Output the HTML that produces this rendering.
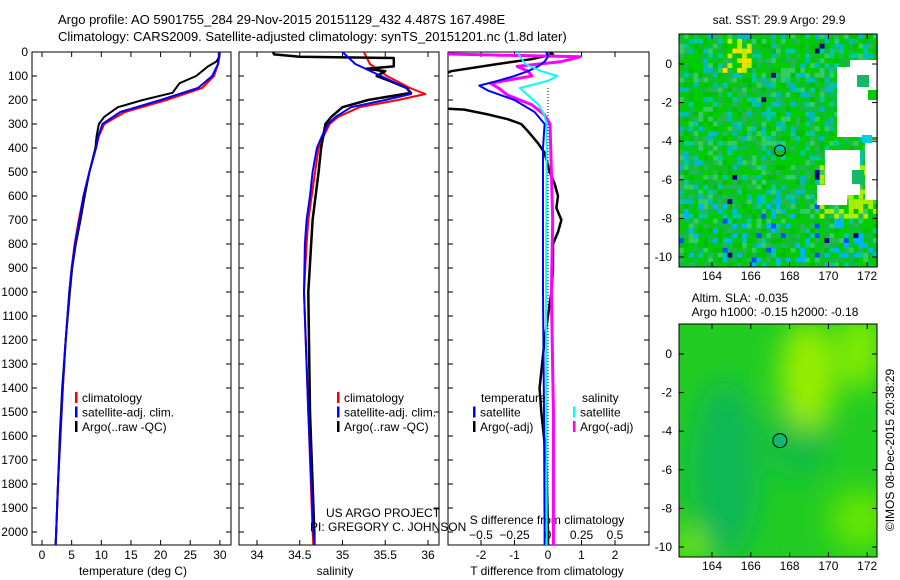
<!DOCTYPE html>
<html><head><meta charset="utf-8"><style>
html,body{margin:0;padding:0;background:#fff;width:900px;height:580px;overflow:hidden}
svg{display:block;font-family:"Liberation Sans",sans-serif}
text{font-size:12px;fill:#000}
</style></head><body>
<svg id="chart" width="900" height="580" viewBox="0 0 900 580" xmlns="http://www.w3.org/2000/svg">
<defs>
<clipPath id="c1"><rect x="32" y="52" width="199" height="493"/></clipPath>
<clipPath id="c2"><rect x="239" y="52" width="200" height="493"/></clipPath>
<clipPath id="c3"><rect x="448" y="52" width="201" height="493"/></clipPath>
<clipPath id="cm2"><rect x="679" y="324" width="198" height="233"/></clipPath>
<filter id="bl" x="-50%" y="-50%" width="200%" height="200%"><feGaussianBlur stdDeviation="14"/></filter>
</defs>
<text x="58" y="24" style="font-size:13px">Argo profile: AO 5901755_284 29-Nov-2015 20151129_432 4.487S 167.498E</text>
<text x="58" y="41" style="font-size:13px">Climatology: CARS2009. Satellite-adjusted climatology: synTS_20151201.nc (1.8d later)</text>
<g id="g"></g>
</svg>
<script>
// depth grids and profile values
const depthT=[0,20,50,100,150,200,250,300,350,400,500,600,700,800,900,1000,1200,1400,1600,1800,2000,2054];
const tempClim=[29.8,29.8,29.7,29.0,27.0,21.0,14.0,10.5,9.6,9.1,8.0,7.0,6.2,5.5,5.0,4.6,4.0,3.5,3.1,2.7,2.4,2.3];
const tempSat=[29.9,29.9,29.7,28.7,26.3,20.0,13.2,10.2,9.5,9.1,8.0,7.0,6.3,5.6,5.0,4.6,4.0,3.5,3.1,2.7,2.4,2.3];
const depthA=[0,20,40,60,80,100,130,170,200,230,270,300,350,400,500,600,700,800,900,1000,1200,1400,1600,1800,2000,2054];
const tempArgo=[30.0,29.9,29.4,28.0,27.0,26.0,23.2,22.0,17.0,12.8,10.5,9.6,9.2,9.0,8.0,7.2,6.5,5.7,5.1,4.7,4.0,3.4,3.0,2.7,2.4,2.3];
const depthS=[0,50,100,150,175,200,230,270,300,350,400,500,600,700,800,1000,1500,2000,2054];
const salClim=[35.25,35.32,35.52,35.79,35.97,35.65,35.2,34.95,34.85,34.78,34.72,34.68,34.64,34.6,34.58,34.55,34.6,34.65,34.66];
const salSat=[35.0,35.15,35.45,35.75,35.8,35.5,35.1,34.92,34.83,34.76,34.7,34.65,34.62,34.58,34.56,34.55,34.6,34.66,34.67];
const depthSA=[0,10,20,25,40,60,70,80,100,120,150,170,200,230,270,300,400,500,700,1000,1500,2000,2054];
const salArgo=[34.19,34.2,34.5,35.6,35.6,35.6,35.28,35.5,35.4,35.55,35.75,35.8,35.3,35.0,34.87,34.8,34.75,34.72,34.65,34.6,34.62,34.67,34.67];
const depthDT=[0,20,40,60,80,100,120,140,160,200,250,300,400,1000,1500,2000,2054];
const dTsat=[-0.05,0.0,-0.1,-0.3,-0.6,-1.0,-1.5,-2.05,-1.8,-1.0,-0.4,-0.1,-0.15,-0.15,-0.12,-0.1,-0.1];
const depthDTA=[0,10,30,50,80,120,233,240,260,280,300,330,380,420,500,550,600,650,700,750,800,900,1000,1200,1400,1500,1700,2000,2054];
const dTargo=[0.05,0.15,-0.5,-1.5,-2.9,-3.5,-3.5,-2.5,-1.8,-1.2,-0.8,-0.6,-0.3,-0.1,0.05,0.2,0.3,0.25,0.4,0.3,0.15,0.15,0.1,-0.1,-0.25,-0.2,-0.05,0.0,0.0];
const depthDS=[0,50,80,100,120,150,180,220,260,300,1000,2000,2054];
const dSsat=[-0.23,-0.17,-0.05,0.07,0.0,-0.21,-0.15,-0.07,-0.03,-0.01,-0.015,-0.01,-0.01];
const depthDSA=[0,8,20,40,60,80,100,130,150,180,220,260,300,500,700,1000,1500,2000,2054];
const dSargo=[-0.8,-0.8,0.24,0.1,-0.23,-0.15,-0.12,-0.43,-0.37,-0.3,-0.12,-0.03,0.015,0.025,0.035,0.025,0.04,0.04,0.04];
const depthTicks=[0,100,200,300,400,500,600,700,800,900,1000,1100,1200,1300,1400,1500,1600,1700,1800,1900,2000];
const tTicks=[0,5,10,15,20,25,30];
const sTicks=[34,34.5,35,35.5,36];
const dTTicks=[-2,-1,0,1,2];
const dSTicks=[-0.5,-0.25,0,0.25,0.5];
const lonTicks=[164,166,168,170,172];
const latTicks=[0,-2,-4,-6,-8,-10];

const yD=d=>52+d*0.24;
const xT=t=>42+t*5.93;
const xS=s=>257+(s-34)*85.5;
const xD=t=>548+t*33.5;
const xDS=s=>xD(s*4);
const mLon=l=>712+(l-164)*19.4;
const mLat1=l=>64-l*19.3;
const mLat2=l=>354-l*19.3;

const NS='http://www.w3.org/2000/svg';
const root=document.getElementById('g');
function el(tag,attrs,parent){const e=document.createElementNS(NS,tag);for(const k in attrs)e.setAttribute(k,attrs[k]);(parent||root).appendChild(e);return e;}
function txt(s,x,y,anchor,parent){const t=el('text',{x:x,y:y,'text-anchor':anchor||'start'},parent);t.textContent=s;return t;}

// maps
const m1=el('g',{});


el('rect',{x:679,y:34,width:198,height:233,fill:'#0c0'},m1);
const pal=['#00cc00','#00cc00','#11bb33','#22b855','#00c000','#33cc66','#00cc00','#11bb44','#00c8a0','#00b8c8'];
function h(i,j){let n=(i*374761393+j*668265263)>>>0;n=((n^(n>>>13))*1274126177)>>>0;return (n>>>8)/16777216;}
for(let i=0;i<41;i++)for(let j=0;j<48;j++){
  const r=h(i,j);const lat=1.5-j*0.25;
  let c=pal[Math.floor(r*10)];
  if(lat<-7&&r>0.85)c=r>0.97?'#0050ff':'#00b4ff';
  if(r>0.995)c='#000088';
  if(lat>-0.5&&lat<1.5&&i>8&&i<15&&r>0.5)c=r>0.85?'#ffdd00':'#bbee00';
  if(lat<-5&&lat>-8&&(i>28)&&r>0.6)c='#aaee00';
  el('rect',{x:679+i*4.85,y:34+j*4.86,width:4.9,height:4.9,fill:c},m1);
}
[[837,67,40,70],[850,60,27,20],[825,150,35,45],[817,185,30,20],[865,140,12,60]].forEach(r=>el('rect',{x:r[0],y:r[1],width:r[2],height:r[3],fill:'#fff'},m1));
[[857,75,12,12,'#11bb66'],[868,90,9,10,'#00cc00'],[862,135,10,8,'#00d0d0'],[852,170,12,14,'#11bb66']].forEach(r=>el('rect',{x:r[0],y:r[1],width:r[2],height:r[3],fill:r[4]},m1));
el('rect',{x:679,y:34,width:198,height:233,fill:'none',stroke:'#000'},m1);
el('circle',{cx:mLon(167.5),cy:mLat1(-4.487),r:5.5,fill:'none',stroke:'#000'},m1);
const mt=txt('sat. SST: 29.9 Argo: 29.9',779,24,'middle');



const m2=el('g',{});


el('rect',{x:679,y:324,width:198,height:233,fill:'#22cc22'},m2);
const bg=el('g',{'clip-path':'url(#cm2)',filter:'url(#bl)'},m2);
el('ellipse',{cx:725,cy:470,rx:35,ry:90,fill:'#11b855'},bg);
el('ellipse',{cx:800,cy:440,rx:30,ry:40,fill:'#11bb44'},bg);
el('ellipse',{cx:808,cy:375,rx:28,ry:55,fill:'#99ee00'},bg);
el('ellipse',{cx:860,cy:350,rx:20,ry:40,fill:'#88ee00'},bg);
el('ellipse',{cx:860,cy:520,rx:30,ry:30,fill:'#66e600'},bg);
el('ellipse',{cx:690,cy:545,rx:15,ry:15,fill:'#88ee00'},bg);
el('rect',{x:679,y:324,width:198,height:233,fill:'none',stroke:'#000'},m2);
el('circle',{cx:mLon(167.5),cy:mLat2(-4.487),r:7,fill:'#11b870',stroke:'#000'},m2);
const mt2=txt('Altim. SLA: -0.035',740,302,'middle');


const mt3=txt('Argo h1000: -0.15 h2000: -0.18',775,316,'middle');


[[mLat1,34,267,280],[mLat2,324,557,570]].forEach(([f,top,bot,ly])=>{
  latTicks.forEach(l=>{const y=f(l);el('line',{x1:679,x2:684,y1:y,y2:y,stroke:'#000'});el('line',{x1:872,x2:877,y1:y,y2:y,stroke:'#000'});
    const t=txt(String(l),672,y+4,'end');});
  lonTicks.forEach(l=>{const x=mLon(l);el('line',{x1:x,x2:x,y1:top,y2:top+5,stroke:'#000'});el('line',{x1:x,x2:x,y1:bot-5,y2:bot,stroke:'#000'});
    const t=txt(String(l),x,ly,'middle');});
});
const cr=txt('©IMOS 08-Dec-2015 20:38:29',0,0,'middle');
cr.setAttribute('transform','translate(894,450) rotate(-90)');



// profile panels
const panels=[[32,231,'c1'],[239,439,'c2'],[448,649,'c3']];
panels.forEach((p,i)=>{
  const r=el('rect',{x:p[0],y:52,width:p[1]-p[0],height:493,fill:'none',stroke:'#000'});
  
  
  depthTicks.forEach(d=>{const y=yD(d);el('line',{x1:p[0],x2:p[0]+5,y1:y,y2:y,stroke:'#000'});el('line',{x1:p[1]-5,x2:p[1],y1:y,y2:y,stroke:'#000'});});
});
depthTicks.forEach(d=>{const t=txt(String(d),28,yD(d)+4,'end');});
function xticks(arr,f){arr.forEach(v=>{const x=f(v);el('line',{x1:x,x2:x,y1:52,y2:57,stroke:'#000'});el('line',{x1:x,x2:x,y1:540,y2:545,stroke:'#000'});
  const t=txt(String(v),x,559,'middle');});}
xticks(tTicks,xT);xticks(sTicks,xS);xticks(dTTicks,xD);
dSTicks.forEach(v=>{const t=txt(String(v).replace('-','\u2212'),xDS(v),539,'middle');});
[['temperature (deg C)',133,575],['salinity',335,575],['T difference from climatology',547,575],['S difference from climatology',547,524]].forEach(a=>{const t=txt(a[0],a[1],a[2],'middle');});
const zl=el('line',{x1:xD(0),x2:xD(0),y1:yD(150),y2:yD(2050),stroke:'#000','stroke-width':1,'stroke-dasharray':'1,2'});



function line(ds,vs,fx,color,w,clip,name){
  const pts=ds.map((d,i)=>fx(vs[i]).toFixed(1)+','+yD(d).toFixed(1)).join(' ');
  const pl=el('polyline',{points:pts,fill:'none',stroke:color,'stroke-width':w,'clip-path':'url(#'+clip+')','stroke-linejoin':'round'});
  
  
}
line(depthT,tempClim,xT,'#f00',2,'c1','temp-climatology-line');
line(depthA,tempArgo,xT,'#000',2,'c1','temp-argo-line');
line(depthT,tempSat,xT,'#00f',2,'c1','temp-satellite-line');
line(depthS,salClim,xS,'#f00',2,'c2','sal-climatology-line');
line(depthSA,salArgo,xS,'#000',2.5,'c2','sal-argo-line');
line(depthS,salSat,xS,'#00f',2,'c2','sal-satellite-line');
line(depthDTA,dTargo,xD,'#000',2.5,'c3','t-diff-argo-line');
line(depthDSA,dSargo,xDS,'#f0f',3,'c3','s-diff-argo-line');
line(depthDT,dTsat,xD,'#00f',2,'c3','t-diff-satellite-line');
line(depthDS,dSsat,xDS,'#0ff',2,'c3','s-diff-satellite-line');

function legend(x,y,items){items.forEach((it,i)=>{const yy=y+i*14.5;
  const b=el('rect',{x:x,y:yy-10,width:2.5,height:11,fill:it[1]});
  const t=txt(it[0],x+7,yy);});}
legend(75,402,[['climatology','#f00'],['satellite-adj. clim.','#00f'],['Argo(..raw -QC)','#000']]);
legend(337,402,[['climatology','#f00'],['satellite-adj. clim.','#00f'],['Argo(..raw -QC)','#000']]);
const lt=txt('temperature',481,402);
const ls=txt('salinity',582,402);
legend(473,416.5,[['satellite','#00f'],['Argo(-adj)','#000']]);
legend(573,416.5,[['satellite','#0ff'],['Argo(-adj)','#f0f']]);
const u1=txt('US ARGO PROJECT',326,517);
const u2=txt('PI: GREGORY C. JOHNSON',310,531);
</script>
</body></html>
